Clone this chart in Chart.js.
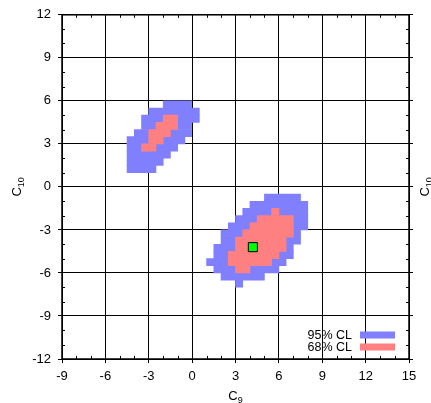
<!DOCTYPE html>
<html>
<head>
<meta charset="utf-8">
<script src="https://cdn.jsdelivr.net/npm/chart.js@4.4.1/dist/chart.umd.min.js"></script>
<style>
  html, body { margin: 0; padding: 0; background: #fff; }
</style>
</head>
<body>
<canvas id="chart" width="431" height="403"></canvas>
<script>
// Axis ranges (C9 horizontal, C10 vertical)
const c9Range = [-9, 15];
const c10Range = [-12, 12];
const majorStep = 3;
const minorStep = 1;

// Scan cell height in C10
const binSize = 0.5;

// Allowed cells per row: [lower C10 edge, C9 from, C9 to]
const cl95Rows = [
  [5.5, -2, 0],
  [5.0, -3, 0.5],
  [4.5, -3.5, 0.5],
  [4.0, -3.5, 0],
  [3.5, -4, 0],
  [3.0, -4.5, -0.5],
  [2.5, -4.5, -1],
  [2.0, -4.5, -1.5],
  [1.5, -4.5, -2],
  [1.0, -4.5, -2.5],
  [-1.0, 5, 7.5],
  [-1.5, 4, 8],
  [-2.0, 3.5, 8],
  [-2.5, 3, 8],
  [-3.0, 2.5, 8],
  [-3.5, 2, 7.5],
  [-4.0, 2, 7.5],
  [-4.5, 1.5, 7],
  [-5.0, 1.5, 7],
  [-5.5, 1, 6.5],
  [-6.0, 1.5, 6],
  [-6.5, 2, 5],
  [-7.0, 3, 3.5]
];

const cl68Rows = [
  [4.5, -2, -1],
  [4.0, -2.5, -1],
  [3.5, -3, -1.5],
  [3.0, -3, -2],
  [2.5, -3.5, -2.5],
  [-2.0, 5.5, 6],
  [-2.5, 4.5, 7],
  [-3.0, 4, 7],
  [-3.5, 3.5, 7],
  [-4.0, 3, 6.5],
  [-4.5, 3, 6.5],
  [-5.0, 2.5, 6],
  [-5.5, 2.5, 5.5],
  [-6.0, 3, 4]
];

// Best fit point [C9, C10]
const bestFit = [4.2, -4.2];

const FONT = '"Liberation Sans", Arial, Helvetica, sans-serif';
Chart.defaults.font.family = FONT;
Chart.defaults.font.size = 13;
Chart.defaults.color = '#000';

// rows -> floating horizontal bars centred on each cell row
function toBars(rows) {
  return rows.map(r => ({ y: r[0] + binSize / 2, x: [r[1], r[2]] }));
}

function isMajor(v) {
  return Math.abs(v % majorStep) < 1e-9;
}

// draws "C" with a subscript index, optionally rotated
function drawIndexed(ctx, main, sub, cx, cy, angle) {
  ctx.save();
  ctx.translate(cx, cy);
  ctx.rotate(angle);
  ctx.fillStyle = '#000';
  ctx.textAlign = 'left';
  ctx.textBaseline = 'alphabetic';
  ctx.font = '13px ' + FONT;
  const w1 = ctx.measureText(main).width;
  ctx.font = '9px ' + FONT;
  const w2 = ctx.measureText(sub).width;
  const start = -(w1 + w2) / 2;
  ctx.font = '13px ' + FONT;
  ctx.fillText(main, start, 4.5);
  ctx.font = '9px ' + FONT;
  ctx.fillText(sub, start + w1, 8);
  ctx.restore();
}

// frame, inward minor ticks, axis titles and the legend box
const decorations = {
  id: 'decorations',
  afterDraw(chart) {
    const { ctx, chartArea: a, scales: { x, y } } = chart;
    ctx.save();
    ctx.strokeStyle = '#000';
    ctx.lineWidth = 1;
    ctx.beginPath();
    for (let v = c9Range[0]; v <= c9Range[1]; v += minorStep) {
      if (isMajor(v)) continue;
      const px = Math.round(x.getPixelForValue(v)) + 0.5;
      ctx.moveTo(px, a.bottom);
      ctx.lineTo(px, a.bottom - 3);
      ctx.moveTo(px, a.top);
      ctx.lineTo(px, a.top + 3);
    }
    for (let v = c10Range[0]; v <= c10Range[1]; v += minorStep) {
      if (isMajor(v)) continue;
      const py = Math.round(y.getPixelForValue(v)) + 0.5;
      ctx.moveTo(a.left, py);
      ctx.lineTo(a.left + 3, py);
      ctx.moveTo(a.right, py);
      ctx.lineTo(a.right - 3, py);
    }
    ctx.stroke();

    ctx.lineWidth = 1.5;
    ctx.strokeRect(a.left, a.top, a.right - a.left, a.bottom - a.top);

    // axis titles
    const midX = (a.left + a.right) / 2;
    const midY = (a.top + a.bottom) / 2;
    drawIndexed(ctx, 'C', '9', midX, a.bottom + 36, 0);
    drawIndexed(ctx, 'C', '10', 16, midY, -Math.PI / 2);
    drawIndexed(ctx, 'C', '10', a.right + 15, midY, -Math.PI / 2);

    // legend: label on the left, colour bar on the right
    const items = chart.data.datasets.filter(d => d.type === 'bar')
      .slice().reverse();
    ctx.font = '12.5px ' + FONT;
    ctx.textAlign = 'right';
    ctx.textBaseline = 'middle';
    items.forEach((d, i) => {
      const cy = a.bottom - 24 + i * 12;
      ctx.fillStyle = d.backgroundColor;
      ctx.fillRect(a.right - 49, cy - 3.5, 35, 7);
      ctx.fillStyle = '#000';
      ctx.fillText(d.label, a.right - 57, cy + 0.5);
    });
    ctx.restore();
  }
};

const gridColor = '#000';

new Chart(document.getElementById('chart'), {
  type: 'bar',
  data: {
    datasets: [
      {
        type: 'scatter',
        label: 'best fit',
        data: [{ x: bestFit[0], y: bestFit[1] }],
        pointStyle: 'rect',
        pointRadius: 6.4,
        backgroundColor: '#00ff00',
        borderColor: '#000',
        borderWidth: 1
      },
      {
        type: 'bar',
        label: '68% CL',
        indexAxis: 'y',
        data: toBars(cl68Rows),
        backgroundColor: '#ff8080',
        borderWidth: 0,
        categoryPercentage: 1,
        barPercentage: 1,
        grouped: false
      },
      {
        type: 'bar',
        label: '95% CL',
        indexAxis: 'y',
        data: toBars(cl95Rows),
        backgroundColor: '#8080ff',
        borderWidth: 0,
        categoryPercentage: 1,
        barPercentage: 1,
        grouped: false
      }
    ]
  },
  options: {
    responsive: false,
    animation: false,
    events: [],
    layout: { padding: { top: 13, left: 0, right: 0, bottom: 0 } },
    plugins: {
      legend: { display: false },
      tooltip: { enabled: false },
      title: { display: false }
    },
    scales: {
      x: {
        type: 'linear',
        position: 'bottom',
        min: c9Range[0],
        max: c9Range[1],
        offset: false,
        z: 1,
        ticks: { stepSize: majorStep, padding: 6, maxRotation: 0, autoSkip: false },
        grid: { color: gridColor, lineWidth: 1, tickLength: 4, tickColor: '#000', offset: false },
        border: { display: false },
        afterFit: s => { s.height = 44; }
      },
      y: {
        type: 'linear',
        position: 'left',
        min: c10Range[0],
        max: c10Range[1],
        offset: false,
        z: 1,
        ticks: { stepSize: majorStep, padding: 7, autoSkip: false },
        grid: { color: gridColor, lineWidth: 1, tickLength: 4, tickColor: '#000', offset: false },
        border: { display: false },
        afterFit: s => { s.width = 62; }
      },
      y2: {
        type: 'linear',
        position: 'right',
        min: c10Range[0],
        max: c10Range[1],
        offset: false,
        z: 1,
        ticks: { stepSize: majorStep, display: false },
        grid: { drawOnChartArea: false, tickLength: 4, tickColor: '#000', offset: false },
        border: { display: false },
        afterFit: s => { s.width = 22; }
      }
    }
  },
  plugins: [decorations]
});
</script>
</body>
</html>
